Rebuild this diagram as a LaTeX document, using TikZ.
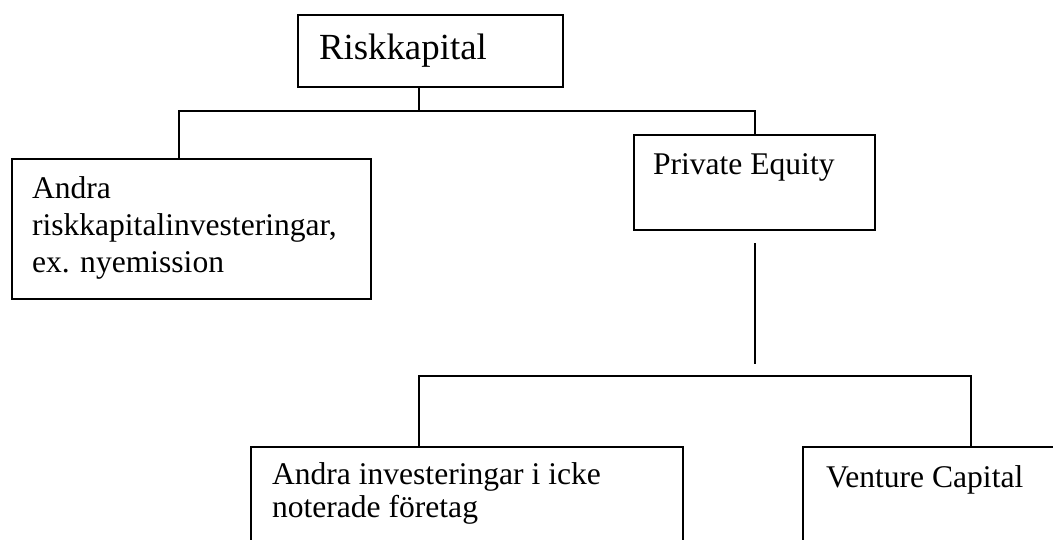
\documentclass[tikz,border=0pt]{standalone}
\usepackage{fontspec}
\setmainfont{Liberation Serif}
\usetikzlibrary{fit}

\begin{document}
\begin{tikzpicture}[x=0.38pt,y=-0.38pt,line width=0.7pt]
	\tikzset{mybox/.style={draw=black,inner sep=0pt,rectangle},
		mytext/.style={inner sep=0pt,anchor=base west,align=left,font=\fontsize{12}{13.9}\selectfont}}
	\useasboundingbox (0,0) rectangle (1053,539);
	\clip (0,0) rectangle (1053,539);
	% boxes (the bottom ones run past the page edge)
	\node[mybox,fit={(298,15) (563,87)}] (R) {};
	\node[mybox,fit={(12,159) (371,299)}] (A) {};
	\node[mybox,fit={(634,135) (875,230)}] (P) {};
	\node[mybox,fit={(251,447) (683,620)}] (B) {};
	\node[mybox,fit={(803,447) (1120,620)}] (V) {};
	% texts (base of a multi-line text is its last line)
	\node[mytext,font=\fontsize{14}{16}\selectfont] (Rt) at ([shift={(21,45)}]R.north west) {Riskkapital};
	\node[mytext] (At) at ([shift={(20,114)}]A.north west) {Andra\\riskkapitalinvesteringar,\\ex. nyemission};
	\node[mytext] (Pt) at ([shift={(19,40)}]P.north west) {Private Equity};
	\node[mytext,font=\fontsize{12}{12.3}\selectfont] (Bt) at ([shift={(21,71)}]B.north west) {Andra investeringar i icke\\noterade företag};
	\node[mytext] (Vt) at ([shift={(23,41)}]V.north west) {Venture Capital};
	% junctions
	\coordinate (j1) at (419,111);
	\coordinate (ja) at (179,111);
	\coordinate (jp) at (755,111);
	\coordinate (s1) at (755,243);
	\coordinate (s2) at (755,364);
	\coordinate (jb) at (419,376);
	\coordinate (jv) at (971,376);
	\draw (R.south -| j1) -- (j1);
	\draw (A.north -| ja) -- (ja) -- (jp) -- (P.north -| jp);
	\draw (s1) -- (s2);
	\draw (B.north -| jb) -- (jb) -- (jv) -- (V.north -| jv);
\end{tikzpicture}
\end{document}
